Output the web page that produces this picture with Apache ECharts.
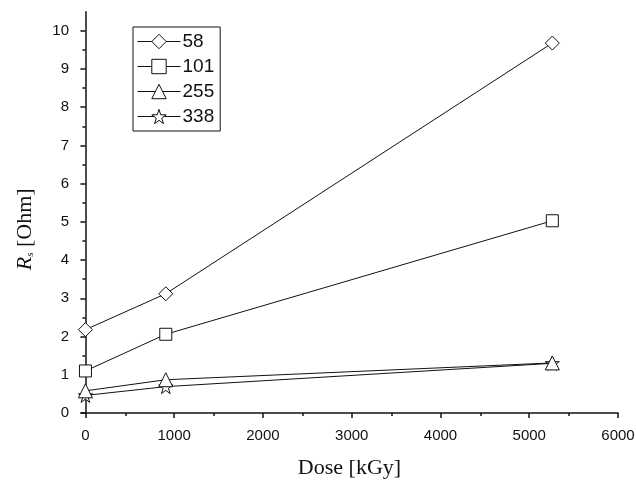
<!DOCTYPE html>
<html><head><meta charset="utf-8">
<script src="https://cdn.jsdelivr.net/npm/echarts@6/dist/echarts.min.js"></script>
<style>html,body{margin:0;padding:0;background:#fff}#c{width:636px;height:481px}</style>
</head><body><div id="c"></div>
<script>
const doses = [0, 905, 5260];
const seriesNames = ['58', '101', '255', '338'];
const rs58 = [2.18, 3.12, 9.68];
const rs101 = [1.10, 2.06, 5.03];
const rs255 = [0.58, 0.87, 1.31];
const rs338 = [0.46, 0.69, 1.30];
const xTicks = [0, 1000, 2000, 3000, 4000, 5000, 6000];
const yTicks = [0,1,2,3,4,5,6,7,8,9,10];

const starPath = 'path://M100,0 L122.45,69.1 L195.1,69.1 L136.3,111.8 L158.8,180.9 L100,138.2 L41.2,180.9 L63.7,111.8 L4.9,69.1 L77.55,69.1 Z';
const symbols = ['diamond', 'rect', 'triangle', starPath];
const sizes = [14, 12, 14, 14];
const values = [rs58, rs101, rs255, rs338];

const chart = echarts.init(document.getElementById('c'));
const series = seriesNames.map((n, i) => ({
  name: n, type: 'line',
  data: doses.map((d, j) => [d, values[i][j]]),
  symbol: symbols[i], symbolSize: sizes[i],
  showAllSymbol: true,
  lineStyle: { color: '#111', width: 1 },
  itemStyle: { color: '#fff', borderColor: '#111', borderWidth: 1 },
  emphasis: { disabled: true },
  z: 10 - i
}));
chart.setOption({
  animation: false,
  backgroundColor: '#fff',
  grid: { left: 81, right: 18, top: 11.7, bottom: 68, containLabel: false, outerBoundsMode: 'none' },
  legend: {
    orient: 'vertical', left: 133, top: 27,
    backgroundColor: '#fff', borderColor: '#111', borderWidth: 1,
    padding: [5, 6, 5, 4], itemGap: 6,
    itemWidth: 43, itemHeight: 18,
    itemStyle: { color: '#fff', borderColor: '#111', borderWidth: 1 },
    lineStyle: { color: '#111', width: 1 },
    textStyle: { fontFamily: 'Liberation Sans', fontSize: 19, color: '#111', padding: [0,0,0,-3] },
    data: seriesNames
  },
  xAxis: {
    type: 'value', min: -50, max: 6000, interval: 1000,
    name: 'Dose [kGy]', nameLocation: 'middle', nameGap: 44,
    nameTextStyle: { fontFamily: 'Liberation Serif', fontSize: 22, color: '#111' },
    axisLine: { show: true, onZero: false, lineStyle: { color: '#111', width: 1.5 } },
    axisTick: { show: true, inside: false, length: 5, lineStyle: { color: '#111', width: 1.5 }, customValues: xTicks },
    minorTick: { show: true, splitNumber: 2, length: 3, lineStyle: { color: '#111', width: 1.5 } },
    axisLabel: { fontFamily: 'Liberation Sans', fontSize: 15, color: '#111', margin: 15, customValues: xTicks, formatter: v => String(v) },
    splitLine: { show: false }
  },
  yAxis: {
    type: 'value', min: 0, max: 10.5, interval: 1,
    name: '{r|R}{s|s} [Ohm]', nameLocation: 'middle', nameGap: 45,
    nameTextStyle: { fontFamily: 'Liberation Serif', fontSize: 22, color: '#111', padding: [0, 34, 0, 0],
      rich: { r: { fontFamily: 'Liberation Serif', fontStyle: 'italic', fontSize: 22, color: '#111' },
              s: { fontFamily: 'Liberation Serif', fontStyle: 'italic', fontSize: 11, color: '#111', verticalAlign: 'bottom', padding: [10, 0, 0, 0] } } },
    axisLine: { show: true, lineStyle: { color: '#111', width: 1.5 } },
    axisTick: { show: true, inside: false, length: 5, lineStyle: { color: '#111', width: 1.5 }, customValues: yTicks },
    minorTick: { show: true, splitNumber: 2, length: 3, lineStyle: { color: '#111', width: 1.5 } },
    axisLabel: { fontFamily: 'Liberation Sans', fontSize: 15, color: '#111', margin: 12, customValues: yTicks },
    splitLine: { show: false }
  },
  series: series
});
</script></body></html>
